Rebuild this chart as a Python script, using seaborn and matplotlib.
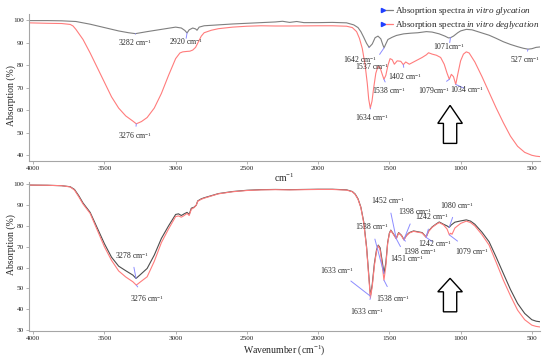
import matplotlib
matplotlib.use("Agg")
import matplotlib.pyplot as plt
import seaborn as sns
from matplotlib.legend_handler import HandlerBase
from matplotlib.lines import Line2D
from matplotlib.patches import Polygon

# ---- top panel: raw spectra ----
top_wn_gly = [4030, 3900, 3800, 3700, 3600, 3500, 3400, 3330, 3282, 3200, 3100, 3000, 2960, 2935,
              2920, 2905, 2880, 2860, 2850, 2835, 2800, 2700, 2600, 2500, 2400, 2300, 2250, 2200,
              2150, 2100, 2000, 1900, 1800, 1750, 1720, 1700, 1680, 1660, 1642, 1620, 1600, 1580,
              1560, 1545, 1537, 1525, 1510, 1480, 1450, 1400, 1350, 1300, 1240, 1200, 1150, 1110,
              1085, 1071, 1050, 1020, 1000, 960, 920, 880, 800, 750, 700, 650, 600, 560, 527, 500,
              470, 440]
top_abs_gly = [99.9, 99.9, 99.8, 99.5, 98.3, 96.8, 95.3, 94.5, 94.1, 95.0, 96.0, 97.0, 96.6, 95.5,
               94.4, 95.8, 96.6, 96.2, 95.6, 97.0, 97.6, 98.0, 98.4, 98.7, 99.0, 99.3, 99.6, 99.1,
               99.5, 99.0, 99.0, 99.1, 98.9, 98.0, 96.8, 95.0, 92.5, 89.8, 88.0, 89.5, 92.3, 93.0,
               91.8, 89.0, 87.8, 89.5, 91.5, 92.5, 93.3, 94.0, 94.3, 94.5, 95.0, 94.8, 94.0, 93.0,
               92.2, 92.3, 93.0, 94.5, 95.3, 96.0, 95.8, 95.0, 93.4, 92.0, 90.5, 89.3, 88.3, 87.6,
               87.2, 87.4, 88.0, 88.2]

top_wn_deg = [4030, 3900, 3800, 3740, 3720, 3700, 3650, 3600, 3550, 3500, 3450, 3400, 3350, 3300,
              3276, 3240, 3200, 3150, 3100, 3050, 3000, 2970, 2950, 2920, 2900, 2880, 2860, 2840,
              2820, 2800, 2750, 2700, 2600, 2500, 2400, 2300, 2200, 2000, 1900, 1800, 1760, 1730,
              1710, 1690, 1670, 1655, 1645, 1634, 1622, 1610, 1595, 1580, 1565, 1550, 1538, 1525,
              1510, 1495, 1480, 1465, 1445, 1420, 1402, 1385, 1360, 1330, 1300, 1270, 1240, 1225,
              1200, 1170, 1140, 1115, 1095, 1079, 1065, 1050, 1034, 1020, 1000, 980, 960, 940, 900,
              850, 800, 750, 700, 650, 600, 550, 500, 470, 440]
top_abs_deg = [98.9, 98.7, 98.6, 98.2, 97.5, 96.0, 91.5, 85.5, 79.0, 72.5, 66.0, 61.0, 57.5, 55.2,
               54.0, 55.0, 56.8, 61.0, 67.5, 75.5, 83.0, 85.5, 86.0, 86.2, 86.3, 86.8, 88.0, 90.5,
               93.0, 94.5, 95.6, 96.3, 97.0, 97.4, 97.6, 97.5, 97.5, 97.6, 97.6, 97.4, 96.8, 95.0,
               92.0, 87.5, 80.0, 72.0, 65.0, 61.0, 64.0, 70.0, 76.5, 79.5, 79.0, 76.0, 73.8, 75.5,
               80.0, 83.0, 82.5, 80.5, 82.0, 81.8, 80.3, 81.5, 80.5, 81.5, 82.5, 83.5, 84.7, 85.6,
               85.0, 84.5, 83.5, 80.5, 76.5, 73.8, 76.0, 75.0, 71.5, 76.0, 82.0, 85.0, 86.0, 85.5, 81.5,
               75.0, 68.0, 61.0, 54.5, 48.5, 44.0, 41.3, 40.0, 39.6, 39.4]

# ---- bottom panel: normalised spectra ----
bot_wn_gly = [4030, 3900, 3800, 3740, 3710, 3680, 3650, 3600, 3550, 3500, 3450, 3400, 3350, 3300,
              3278, 3250, 3200, 3150, 3100, 3050, 3000, 2980, 2960, 2940, 2920, 2905, 2890, 2870,
              2855, 2845, 2820, 2800, 2700, 2600, 2500, 2400, 2300, 2200, 2000, 1900, 1800, 1760,
              1740, 1720, 1700, 1680, 1660, 1645, 1633, 1620, 1605, 1590, 1578, 1565, 1550, 1538,
              1525, 1512, 1500, 1490, 1470, 1452, 1435, 1415, 1398, 1380, 1360, 1330, 1300, 1270,
              1242, 1225, 1200, 1170, 1150, 1120, 1095, 1080, 1065, 1040, 1000, 960, 930, 900, 850,
              800, 750, 700, 650, 600, 550, 500, 470, 440]
bot_abs_gly = [99.6, 99.5, 99.3, 98.8, 97.5, 94.5, 91.0, 86.5, 79.0, 71.5, 65.0, 60.7, 58.5, 56.4,
               54.8, 56.5, 59.6, 66.0, 74.0, 80.0, 85.5, 85.8, 85.0, 85.8, 86.5, 85.5, 88.5, 89.0,
               90.0, 92.0, 93.0, 93.5, 95.5, 96.5, 97.1, 97.4, 97.5, 97.4, 97.6, 97.6, 97.3, 96.5,
               95.3, 93.0, 89.0, 82.0, 70.0, 57.0, 46.3, 52.0, 62.0, 68.5, 70.8, 69.5, 63.0, 57.2,
               62.0, 72.0, 76.5, 78.0, 76.0, 74.0, 76.8, 75.5, 73.5, 75.5, 76.8, 77.6, 77.2, 76.8,
               74.7, 77.5, 79.5, 81.0, 81.9, 80.8, 80.0, 79.3, 80.5, 81.8, 82.4, 82.9, 82.3, 80.8, 77.0,
               72.4, 65.0, 57.2, 49.5, 42.8, 38.0, 35.0, 34.3, 34.0]

bot_wn_deg = [4030, 3900, 3800, 3740, 3710, 3680, 3650, 3600, 3550, 3500, 3450, 3400, 3350, 3300,
              3276, 3250, 3200, 3150, 3100, 3050, 3000, 2980, 2960, 2940, 2920, 2905, 2890, 2870,
              2855, 2845, 2820, 2800, 2700, 2600, 2500, 2400, 2300, 2200, 2000, 1900, 1800, 1760,
              1740, 1720, 1700, 1680, 1660, 1645, 1633, 1620, 1605, 1590, 1578, 1565, 1550, 1538,
              1525, 1512, 1500, 1490, 1470, 1451, 1435, 1415, 1398, 1380, 1360, 1330, 1300, 1270,
              1242, 1225, 1200, 1170, 1150, 1120, 1095, 1079, 1070, 1060, 1040, 1000, 960, 930, 900,
              850, 800, 750, 700, 650, 600, 550, 500, 470, 440]
bot_abs_deg = [99.6, 99.5, 99.3, 98.7, 97.2, 94.0, 90.5, 86.0, 78.0, 70.0, 63.5, 58.4, 55.5, 53.2,
               51.6, 53.0, 55.6, 63.0, 72.0, 78.5, 84.5, 84.8, 84.2, 85.0, 86.0, 85.0, 88.0, 88.8,
               90.0, 91.8, 92.8, 93.3, 95.4, 96.4, 97.0, 97.3, 97.4, 97.3, 97.5, 97.5, 97.2, 96.4,
               95.1, 92.8, 88.8, 81.5, 69.5, 56.0, 45.5, 51.0, 61.0, 68.0, 70.5, 68.5, 61.0, 54.0,
               60.5, 71.5, 76.3, 77.8, 75.8, 73.8, 76.6, 75.3, 73.3, 75.3, 76.6, 77.4, 77.0, 76.6,
               74.5, 77.3, 79.3, 80.8, 81.6, 80.5, 78.5, 75.7, 76.5, 76.0, 79.0, 81.2, 82.3, 81.6, 80.0,
               75.8, 70.8, 62.5, 54.0, 46.5, 39.6, 35.0, 32.4, 31.8, 31.5]

sns.set_theme(style="ticks")
plt.rcParams["font.family"] = ["Liberation Serif", "DejaVu Serif"]
plt.rcParams["mathtext.fontset"] = "custom"
plt.rcParams["mathtext.rm"] = "Liberation Serif"
plt.rcParams["mathtext.it"] = "Liberation Serif:italic"

GREY = "#7f7f7f"
DARK = "#4d4d4d"
RED = "#ff7c7c"
BLUE = "#8c8cff"
MARK = "#2040ff"
SPINE = "#a6a6a6"
CM = " cm$^{-1}$"


class ArrowLine(HandlerBase):
    # legend key: small blue arrowhead, then the coloured line
    def create_artists(self, legend, orig, xd, yd, w, h, fs, trans):
        y = h / 2 - yd
        line = Line2D([-xd + 3, -xd + w], [y, y], color=orig.get_color(),
                      lw=orig.get_linewidth(), transform=trans)
        tip = Line2D([-xd + 1.5], [y], marker=">", ms=3, ls="none", color=MARK, transform=trans)
        return [line, tip]


def val(wn, ab, w):
    return ab[wn.index(w)]


def style_axes(ax, ylim, yticks, label_y):
    ax.set_xlim(4032, 442)
    ax.set_ylim(*ylim)
    ax.set_xticks([4000, 3500, 3000, 2500, 2000, 1500, 1000, 500])
    ax.set_yticks(yticks)
    sns.despine(ax=ax)
    for s in ("left", "bottom"):
        ax.spines[s].set_color(SPINE)
        ax.spines[s].set_linewidth(0.8)
    ax.tick_params(labelsize=5.2, length=2, width=0.6, color=SPINE, pad=1.5)
    ax.set_ylabel("Absorption (%)", fontsize=7)
    ax.yaxis.set_label_coords(-0.024, label_y)


def hollow_arrow(ax, tip, base, bottom):
    pts = [(0.824, tip), (0.848, base), (0.837, base), (0.837, bottom),
           (0.811, bottom), (0.811, base), (0.800, base)]
    ax.add_patch(Polygon(pts, closed=True, transform=ax.transAxes, facecolor="white",
                         edgecolor="black", lw=1.0, zorder=5))


def peak(ax, xy, label, xytext, size=5.5):
    ax.annotate(label, xy=xy, xytext=xytext, ha="center", va="center", fontsize=size,
                arrowprops=dict(arrowstyle="-", color=BLUE, lw=0.7, shrinkA=2.5, shrinkB=0))


fig = plt.figure(figsize=(5.5, 3.61), dpi=100)
ax1 = fig.add_axes([0.052, 0.553, 0.930, 0.408])
ax2 = fig.add_axes([0.052, 0.082, 0.930, 0.414])

sns.lineplot(x=top_wn_gly, y=top_abs_gly, ax=ax1, color=GREY, lw=0.8, sort=False, estimator=None)
sns.lineplot(x=top_wn_deg, y=top_abs_deg, ax=ax1, color=RED, lw=0.8, sort=False, estimator=None)
style_axes(ax1, (37.3, 102.8), range(40, 101, 10), 0.45)
ax1.set_xlabel("cm$^{-1}$", fontsize=7, labelpad=0)

g, d = (top_wn_gly, top_abs_gly), (top_wn_deg, top_abs_deg)
peak(ax1, (3282, val(*g, 3282)), "3282" + CM, (3285, 90.0))
peak(ax1, (2920, val(*g, 2920)), "2920" + CM, (2930, 90.5))
peak(ax1, (3276, val(*d, 3276)), "3276" + CM, (3285, 49.0))
peak(ax1, (1642, val(*g, 1642)), "1642" + CM, (1703, 82.7))
peak(ax1, (1537, val(*g, 1537)), "1537" + CM, (1624, 79.7))
peak(ax1, (1071, val(*g, 1071)), "1071cm$^{-1}$", (1080, 88.6))
peak(ax1, (527, val(*g, 527)), "527" + CM, (545, 82.4))
peak(ax1, (1538, val(*d, 1538)), "1538" + CM, (1502, 68.7))
peak(ax1, (1402, val(*d, 1402)), "1402" + CM, (1390, 75.2))
peak(ax1, (1079, val(*d, 1079)), "1079cm$^{-1}$", (1184, 69.0))
peak(ax1, (1034, val(*d, 1034)), "1034" + CM, (957, 69.3))
peak(ax1, (1634, val(*d, 1634)), "1634" + CM, (1619, 56.7))
hollow_arrow(ax1, 0.380, 0.258, 0.122)

sns.lineplot(x=bot_wn_gly, y=bot_abs_gly, ax=ax2, color=DARK, lw=0.8, sort=False, estimator=None)
sns.lineplot(x=bot_wn_deg, y=bot_abs_deg, ax=ax2, color=RED, lw=0.8, sort=False, estimator=None)
style_axes(ax2, (29.4, 101.1), range(30, 101, 10), 0.578)
ax2.set_xlabel("Wavenumber (cm$^{-1}$)", fontsize=7, labelpad=1)

g, d = (bot_wn_gly, bot_abs_gly), (bot_wn_deg, bot_abs_deg)
peak(ax2, (3278, val(*g, 3278)), "3278" + CM, (3309, 66.0))
peak(ax2, (3276, val(*d, 3276)), "3276" + CM, (3204, 45.2))
peak(ax2, (1633, val(*g, 1633)), "1633" + CM, (1869, 58.8))
peak(ax2, (1633, val(*d, 1633)), "1633" + CM, (1659, 38.9))
peak(ax2, (1538, val(*g, 1538)), "1538" + CM, (1624, 79.5))
peak(ax2, (1538, val(*d, 1538)), "1538" + CM, (1472, 45.2))
peak(ax2, (1452, val(*g, 1452)), "1452" + CM, (1507, 92.0))
peak(ax2, (1451, val(*d, 1451)), "1451" + CM, (1378, 64.4))
peak(ax2, (1398, val(*g, 1398)), "1398" + CM, (1320, 86.7))
peak(ax2, (1398, val(*d, 1398)), "1398" + CM, (1285, 67.5))
peak(ax2, (1242, val(*g, 1242)), "1242" + CM, (1202, 84.3))
peak(ax2, (1242, val(*d, 1242)), "1242" + CM, (1179, 71.6))
peak(ax2, (1080, val(*g, 1080)), "1080" + CM, (1027, 89.9))
peak(ax2, (1079, val(*d, 1079)), "1079" + CM, (921, 67.5))
hollow_arrow(ax2, 0.355, 0.265, 0.131)

handles = [Line2D([], [], color=GREY, lw=0.9), Line2D([], [], color=RED, lw=0.9)]
labels = [r"Absoprtion spectra $\mathit{in\ vitro\ glycation}$",
          r"Absorption spectra $\mathit{in\ vitro\ deglycation}$"]
fig.legend(handles, labels, loc="upper left", bbox_to_anchor=(0.682, 1.0), frameon=False,
           fontsize=6.6, handlelength=1.3, handletextpad=0.25, labelspacing=0.15,
           borderpad=0.1, handler_map={Line2D: ArrowLine()})

fig.savefig("out.png", dpi=100)
